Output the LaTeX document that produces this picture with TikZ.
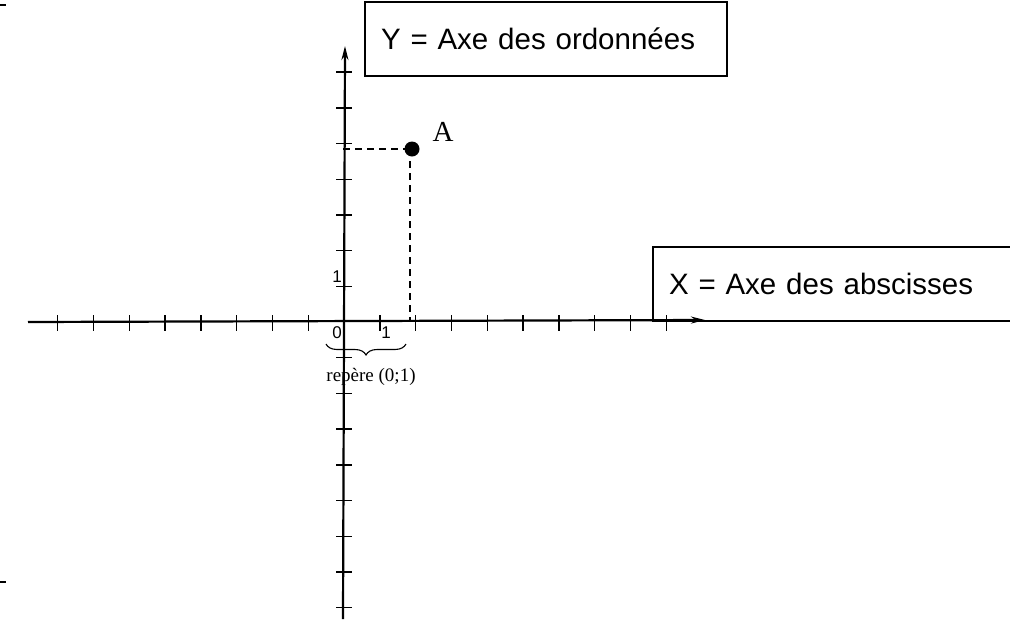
\documentclass[tikz,border=0pt]{standalone}
\usepackage{fontspec}
\setmainfont{Liberation Serif}
\newfontfamily\sansf{Liberation Sans}
\usetikzlibrary{arrows.meta,decorations.pathreplacing}
\begin{document}
\begin{tikzpicture}[x=1pt,y=-1pt,
  axisline/.style={line width=2.2pt},
  tickline/.style={line width=1.4pt},
  labelbox/.style={draw,line width=2pt,minimum height=74pt,text width=330pt,align=left,inner xsep=16pt,font=\sansf\fontsize{29.5}{32}\selectfont},
  smalllab/.style={font=\sansf\fontsize{17}{19}\selectfont,inner sep=0pt},
  dashline/.style={line width=1.6pt,dash pattern=on 7pt off 5pt}]
\useasboundingbox (0,0) rectangle (1010,619);
% left edge marks
\coordinate (m1a) at (0,5); \coordinate (m1b) at (6,5);
\coordinate (m2a) at (0,582); \coordinate (m2b) at (6,582);
\draw[line width=2pt] (m1a) -- (m1b);
\draw[line width=2pt] (m2a) -- (m2b);
% axes
\coordinate (xs) at (28,322);
\coordinate (xe) at (705,320);
\coordinate (ys) at (343,619);
\coordinate (ye) at (345,46);
\draw[axisline,-{Stealth[length=14pt,width=7pt]}] (xs) -- (xe);
\draw[axisline,-{Stealth[length=14pt,width=7pt]}] (ys) -- (ye);
% ticks
\foreach \k in {-8,...,-1,1,2,...,9}{
  \draw[tickline] ({344+35.8*\k},315) -- ({344+35.8*\k},331);
}
\foreach \k in {-8,...,-1,1,2,...,7}{
  \draw[tickline] (336,{322-35.7*\k}) -- (352,{322-35.7*\k});
}
% labels
\node[smalllab] (l0) at (337,333) {0};
\node[smalllab] (l1x) at (386,333) {1};
\node[smalllab] (l1y) at (337,277) {1};
% brace
\coordinate (b1) at (326,344);
\coordinate (b2) at (406,344);
\draw[line width=1.1pt,decorate,decoration={brace,amplitude=11pt,mirror}] (b1) -- (b2);
\node[font=\fontsize{19}{21}\selectfont,inner sep=0pt] (rep) at (371,377) {repère (0;1)};
% point A
\coordinate (Ay) at (343,149);
\coordinate (Ax) at (410,320);
\node[circle,fill=black,minimum size=15pt,inner sep=0pt] (A) at (412,149) {};
\draw[dashline] (Ay) -- (A.center);
\draw[dashline] (A.center -| Ax) -- (Ax);
\node[font=\fontsize{29}{32}\selectfont,inner sep=0pt] (Alab) at (443,132) {A};
% boxes
\node[labelbox,anchor=north west] (ybox) at (364,1) {Y = Axe des ordonnées};
\node[labelbox,anchor=north west] (xbox) at (652,246) {X = Axe des abscisses};
\end{tikzpicture}
\end{document}
